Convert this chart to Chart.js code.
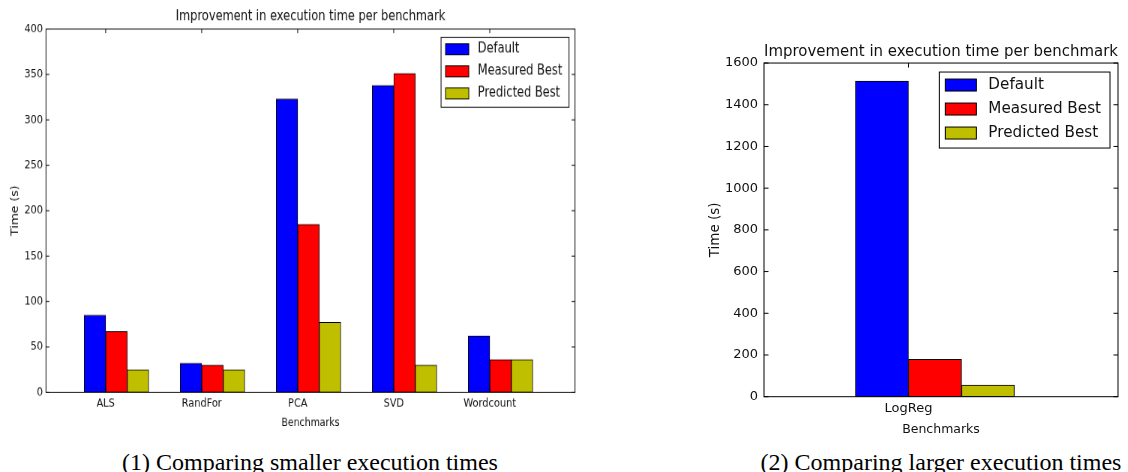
<!DOCTYPE html>
<html>
<head>
<meta charset="utf-8">
<script src="https://cdn.jsdelivr.net/npm/chart.js@4.4.1/dist/chart.umd.min.js"></script>
<style>
  html, body { margin: 0; padding: 0; background: #fff; }
  body { width: 1128px; height: 472px; position: relative; overflow: hidden; }
  /* the left figure is drawn at full size and squeezed, like a resized plot image */
  #smallWrap { position: absolute; left: 0; top: 0; width: 800px; height: 478px;
               transform: scale(0.75, 0.92); transform-origin: 0 0; }
  #largeWrap { position: absolute; left: 680px; top: 0; width: 448px; height: 440px; }
  .caption { position: absolute; top: 450px; width: 600px; text-align: center;
             font-family: 'Liberation Serif', 'Times New Roman', serif; font-size: 24px;
             line-height: 24px; color: #000; white-space: nowrap; }
</style>
</head>
<body>
<div id="smallWrap"><canvas id="small" width="800" height="478"></canvas></div>
<div id="largeWrap"><canvas id="large" width="448" height="440"></canvas></div>
<div class="caption" style="left:10px">(1) Comparing smaller execution times</div>
<div class="caption" style="left:641px">(2) Comparing larger execution times</div>

<script>
// Execution times in seconds
const smallBenchmarks = ['ALS', 'RandFor', 'PCA', 'SVD', 'Wordcount'];
const smallDefault = [85, 32, 323, 338, 62];
const smallMeasuredBest = [67, 30, 185, 351, 36];
const smallPredictedBest = [25, 25, 77, 30, 36];
const smallYTicks = [0, 50, 100, 150, 200, 250, 300, 350, 400];

const largeBenchmarks = ['LogReg'];
const largeDefault = [1514];
const largeMeasuredBest = [179];
const largePredictedBest = [56];
const largeYTicks = [0, 200, 400, 600, 800, 1000, 1200, 1400, 1600];

const seriesNames = ['Default', 'Measured Best', 'Predicted Best'];
const seriesColors = ['#0000ff', '#ff0000', '#bfbf00'];

const chartTitle = 'Improvement in execution time per benchmark';
const xAxisTitle = 'Benchmarks';
const yAxisTitle = 'Time (s)';

Chart.defaults.font.family = "'DejaVu Sans', sans-serif";
Chart.defaults.color = '#111';

// Box around the plot with inward tick marks on all four sides
const framePlugin = {
  id: 'mplFrame',
  afterDatasetsDraw(chart, args, o) {
    const { ctx, chartArea: a, scales: { x, y } } = chart;
    const L = o.tickLength;
    ctx.save();
    ctx.strokeStyle = '#000';
    ctx.lineWidth = 1;
    ctx.strokeRect(a.left, a.top, a.right - a.left, a.bottom - a.top);
    ctx.beginPath();
    y.ticks.forEach(t => {
      const py = y.getPixelForValue(t.value);
      ctx.moveTo(a.left, py); ctx.lineTo(a.left + L, py);
      ctx.moveTo(a.right, py); ctx.lineTo(a.right - L, py);
    });
    x.ticks.forEach(t => {
      const px = x.getPixelForValue(t.value) + o.xShift;
      ctx.moveTo(px, a.bottom); ctx.lineTo(px, a.bottom - L);
      ctx.moveTo(px, a.top); ctx.lineTo(px, a.top + L);
    });
    ctx.stroke();
    ctx.restore();
  }
};

// Boxed legend in the upper right corner of the plot
const legendPlugin = {
  id: 'mplLegend',
  afterDraw(chart, args, o) {
    const { ctx, chartArea: a } = chart;
    const items = chart.data.datasets;
    ctx.save();
    ctx.font = o.fontSize + "px 'DejaVu Sans', sans-serif";
    const textW = Math.max(...items.map(d => ctx.measureText(d.label).width));
    const w = o.textX + textW + o.padRight;
    const h = o.rowGap * items.length + 4;
    const left = a.right - o.insetX - w;
    const top = a.top + o.insetY;
    ctx.fillStyle = '#fff';
    ctx.fillRect(left, top, w, h);
    ctx.strokeStyle = '#000';
    ctx.lineWidth = 1;
    ctx.strokeRect(left, top, w, h);
    items.forEach((d, k) => {
      const cy = top + o.rowGap / 2 + 1 + k * o.rowGap;
      ctx.fillStyle = d.backgroundColor;
      ctx.fillRect(left + o.swatchX, cy - o.swatchH / 2, o.swatchW, o.swatchH);
      ctx.strokeRect(left + o.swatchX, cy - o.swatchH / 2, o.swatchW, o.swatchH);
      ctx.fillStyle = '#111';
      ctx.textAlign = 'left';
      ctx.textBaseline = 'middle';
      ctx.fillText(d.label, left + o.textX, cy);
    });
    ctx.restore();
  }
};

function buildChart(canvasId, p) {
  const datasets = p.series.map((values, k) => ({
    label: seriesNames[k],
    data: values.map((v, i) => ({ x: i, y: v })),
    backgroundColor: seriesColors[k],
    borderColor: '#000',
    borderWidth: 1,
    borderSkipped: false,
    barThickness: p.bar
  }));
  const yMax = p.yTicks[p.yTicks.length - 1];
  return new Chart(document.getElementById(canvasId), {
    type: 'bar',
    data: { datasets },
    options: {
      responsive: false,
      animation: false,
      events: [],
      layout: { padding: p.padding },
      plugins: {
        legend: { display: false },
        tooltip: { enabled: false },
        title: {
          display: true, text: chartTitle, fullSize: false, color: '#111',
          font: { size: 15.2, weight: 'normal' }, padding: p.titlePadding
        },
        mplFrame: { tickLength: 4.5, xShift: -p.bar / 2 },
        mplLegend: { fontSize: 15.2, rowGap: 24, insetX: 8, insetY: 9,
                     swatchX: 6, swatchW: 31, swatchH: 12, textX: 49, padRight: 9 }
      },
      scales: {
        x: {
          type: 'linear', offset: false, min: p.xMin, max: p.xMax,
          grid: { display: false, drawTicks: false }, border: { display: false },
          afterBuildTicks: s => { s.ticks = p.categories.map((_, i) => ({ value: i })); },
          ticks: {
            autoSkip: false, maxRotation: 0, padding: 4, labelOffset: -p.bar / 2,
            font: { size: 13 }, color: '#111', callback: v => p.categories[v]
          },
          title: { display: true, text: xAxisTitle, color: '#111', font: { size: 12.5 },
                   padding: { top: 0, bottom: p.xTitlePad } },
          afterFit: s => { s.height = p.xHeight; }
        },
        y: {
          min: 0, max: yMax,
          grid: { display: false, drawTicks: false }, border: { display: false },
          afterBuildTicks: s => { s.ticks = p.yTicks.map(v => ({ value: v })); },
          ticks: { padding: p.yTickPad, font: { size: 13 }, color: '#111', callback: v => String(v) },
          title: { display: true, text: yAxisTitle, color: '#111', font: { size: 13.5 },
                   padding: { top: p.yTitlePad, bottom: 0 } },
          afterFit: s => { s.width = p.yWidth; }
        }
      }
    },
    plugins: [framePlugin, legendPlugin]
  });
}

buildChart('small', {
  categories: smallBenchmarks,
  series: [smallDefault, smallMeasuredBest, smallPredictedBest],
  yTicks: smallYTicks,
  bar: 28.7,
  xMin: -0.734, xMax: 4.776,
  padding: { left: 0, right: 33.3, top: 0, bottom: 0 },
  titlePadding: { top: 9.4, bottom: 3.9 },
  yWidth: 61.3, yTickPad: 4, yTitlePad: 11.9,
  xHeight: 51.6, xTitlePad: 10.7
});

buildChart('large', {
  categories: largeBenchmarks,
  series: [largeDefault, largeMeasuredBest, largePredictedBest],
  yTicks: largeYTicks,
  bar: 53,
  xMin: -0.966, xMax: 1.034,
  padding: { left: 0, right: 10, top: 0, bottom: 0 },
  titlePadding: { top: 42.9, bottom: 1.9 },
  yWidth: 84, yTickPad: 6, yTitlePad: 26.9,
  xHeight: 43.3, xTitlePad: 2.5
});
</script>
</body>
</html>
